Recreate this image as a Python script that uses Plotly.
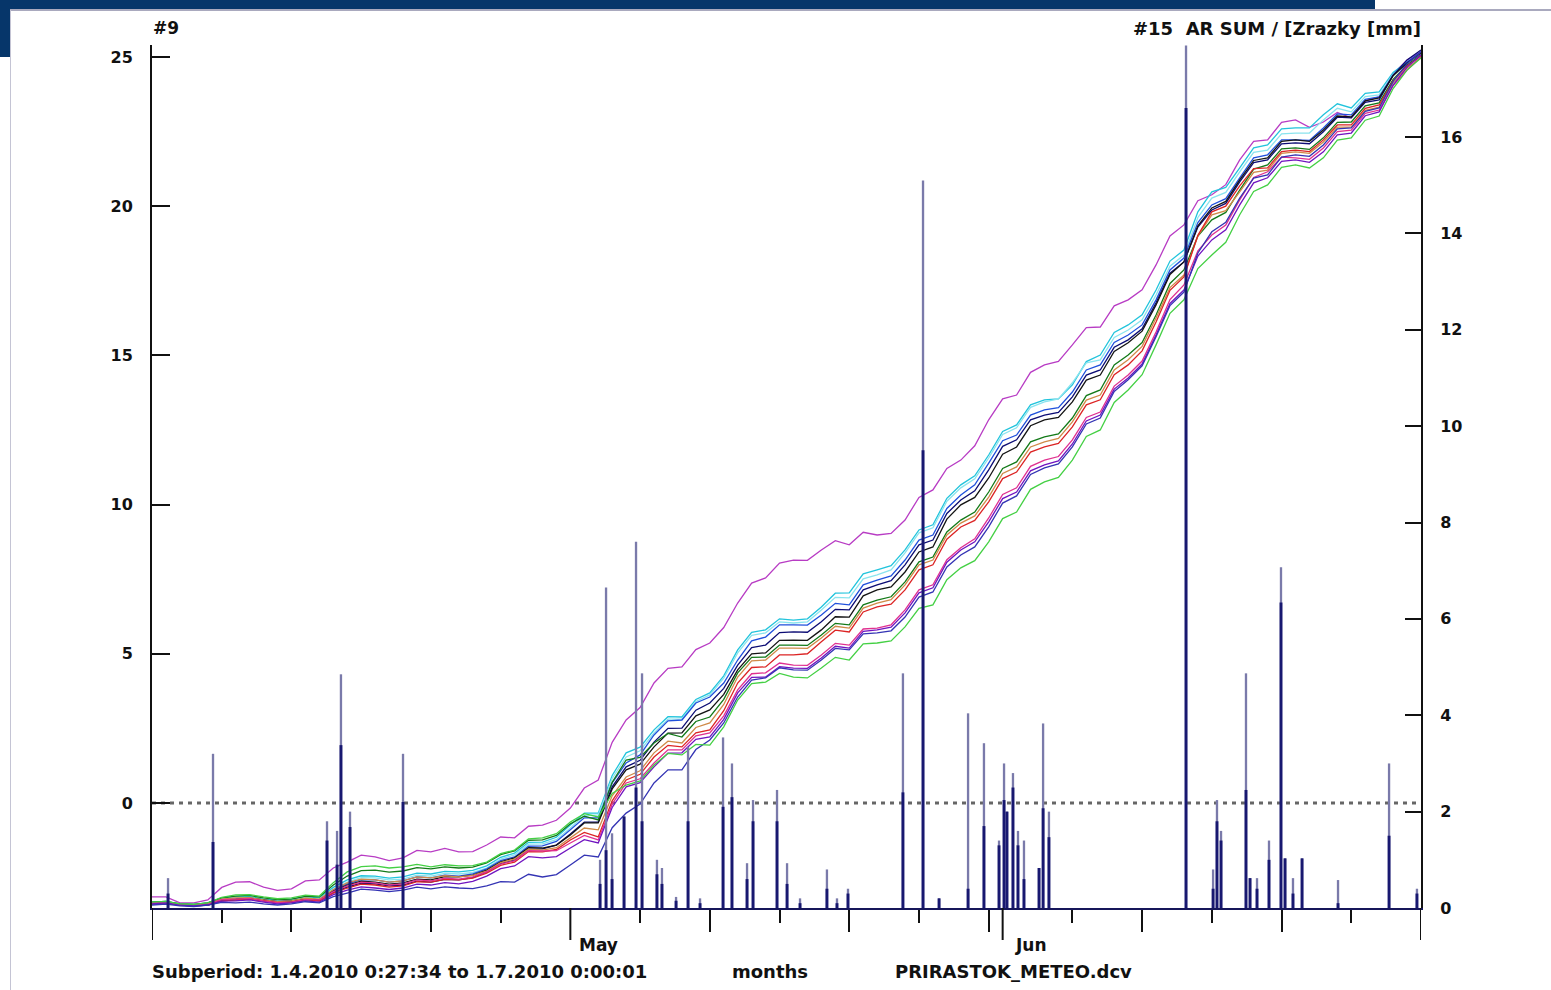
import plotly.graph_objects as go
import pandas as pd

# ---------------- data ----------------
# daily samples, 1.4.2010 .. 1.7.2010 (92 days)
line_dates = pd.date_range('2010-04-01', '2010-07-01', freq='D')

s_magenta = [-3.15, -3.15, -3.35, -3.35, -3.25, -2.83, -2.65, -2.64, -2.82, -2.93, -2.88, -2.61,
             -2.58, -2.18, -1.98, -1.75, -1.81, -1.93, -1.84, -1.59, -1.64, -1.52, -1.64, -1.63,
             -1.41, -1.14, -1.17, -0.78, -0.74, -0.58, -0.17, 0.50, 0.77, 2.03, 2.78, 3.20, 4.02,
             4.51, 4.56, 5.14, 5.36, 5.88, 6.70, 7.37, 7.54, 8.04, 8.14, 8.13, 8.48, 8.79, 8.65,
             9.07, 8.98, 9.03, 9.48, 10.24, 10.49, 11.21, 11.49, 11.97, 12.84, 13.54, 13.67,
             14.43, 14.68, 14.80, 15.35, 15.93, 15.95, 16.66, 16.86, 17.20, 18.03, 19.00, 19.37,
             20.18, 20.38, 20.72, 21.55, 22.17, 22.22, 22.81, 22.89, 22.64, 22.82, 23.14, 22.96,
             23.53, 23.66, 24.43, 24.90, 25.17]
s_cyan = [-3.32, -3.30, -3.38, -3.40, -3.35, -3.19, -3.15, -3.14, -3.22, -3.26, -3.22, -3.14,
          -3.18, -2.83, -2.58, -2.44, -2.45, -2.52, -2.48, -2.35, -2.38, -2.29, -2.31, -2.26,
          -2.11, -1.82, -1.68, -1.32, -1.31, -1.15, -0.74, -0.34, -0.34, 0.92, 1.68, 1.87, 2.45,
          2.89, 2.88, 3.47, 3.69, 4.26, 5.13, 5.72, 5.80, 6.17, 6.13, 6.17, 6.57, 7.03, 7.04,
          7.68, 7.81, 7.95, 8.48, 9.15, 9.32, 10.21, 10.66, 10.96, 11.66, 12.45, 12.67, 13.34,
          13.51, 13.54, 14.01, 14.79, 15.01, 15.77, 16.02, 16.36, 17.19, 18.16, 18.53, 19.81,
          20.48, 20.63, 21.28, 21.95, 22.05, 22.59, 22.62, 22.62, 23.06, 23.43, 23.29, 23.78,
          23.83, 24.48, 24.83, 25.07]
s_lcyan = [-3.35, -3.34, -3.42, -3.43, -3.38, -3.22, -3.18, -3.17, -3.25, -3.29, -3.25, -3.18,
           -3.22, -2.89, -2.65, -2.50, -2.51, -2.58, -2.55, -2.42, -2.45, -2.36, -2.38, -2.33,
           -2.18, -1.88, -1.74, -1.38, -1.37, -1.23, -0.84, -0.42, -0.40, 0.82, 1.54, 1.75, 2.35,
           2.81, 2.82, 3.40, 3.62, 4.18, 5.03, 5.62, 5.70, 6.07, 6.03, 6.07, 6.47, 6.89, 6.87,
           7.51, 7.64, 7.81, 8.38, 9.05, 9.22, 10.11, 10.56, 10.86, 11.56, 12.35, 12.57, 13.26,
           13.44, 13.54, 14.08, 14.75, 14.85, 15.60, 15.85, 16.19, 17.02, 17.99, 18.36, 19.62,
           20.27, 20.46, 21.15, 21.80, 21.88, 22.42, 22.45, 22.45, 22.89, 23.28, 23.16, 23.67,
           23.73, 24.42, 24.80, 25.13]
s_blue = [-3.35, -3.34, -3.42, -3.43, -3.38, -3.24, -3.22, -3.19, -3.25, -3.31, -3.28, -3.21,
          -3.25, -2.93, -2.71, -2.57, -2.58, -2.65, -2.61, -2.48, -2.51, -2.42, -2.45, -2.38,
          -2.21, -1.93, -1.81, -1.45, -1.44, -1.29, -0.90, -0.50, -0.50, 0.67, 1.34, 1.61, 2.28,
          2.75, 2.78, 3.35, 3.55, 4.02, 4.79, 5.43, 5.56, 5.97, 5.97, 5.96, 6.30, 6.69, 6.64,
          7.31, 7.47, 7.61, 8.14, 8.81, 8.98, 9.87, 10.32, 10.66, 11.39, 12.14, 12.33, 13.00,
          13.17, 13.25, 13.77, 14.51, 14.68, 15.43, 15.68, 16.02, 16.86, 17.86, 18.26, 19.45,
          20.04, 20.25, 20.95, 21.62, 21.72, 22.22, 22.22, 22.20, 22.62, 23.09, 23.06, 23.58,
          23.66, 24.40, 24.83, 25.17]
s_navy = [-3.38, -3.35, -3.42, -3.45, -3.42, -3.28, -3.25, -3.22, -3.28, -3.34, -3.32, -3.24,
          -3.28, -3.00, -2.82, -2.69, -2.71, -2.78, -2.75, -2.62, -2.65, -2.56, -2.58, -2.50,
          -2.31, -2.03, -1.91, -1.55, -1.54, -1.41, -1.04, -0.64, -0.64, 0.54, 1.21, 1.43, 2.04,
          2.50, 2.51, 3.11, 3.35, 3.84, 4.62, 5.21, 5.29, 5.71, 5.73, 5.72, 6.07, 6.49, 6.47,
          7.14, 7.31, 7.45, 7.98, 8.65, 8.81, 9.70, 10.15, 10.46, 11.16, 11.95, 12.17, 12.84,
          13.00, 13.09, 13.61, 14.34, 14.51, 15.27, 15.52, 15.89, 16.76, 17.75, 18.13, 19.30,
          19.87, 20.09, 20.81, 21.46, 21.55, 22.09, 22.12, 22.09, 22.49, 22.98, 22.96, 23.48,
          23.56, 24.38, 24.90, 25.23]
s_black = [-3.35, -3.34, -3.42, -3.43, -3.38, -3.24, -3.22, -3.19, -3.25, -3.31, -3.28, -3.21,
           -3.25, -2.95, -2.75, -2.62, -2.65, -2.72, -2.68, -2.55, -2.58, -2.47, -2.48, -2.42,
           -2.25, -1.97, -1.84, -1.50, -1.51, -1.41, -1.07, -0.67, -0.67, 0.47, 1.11, 1.30, 1.88,
           2.34, 2.35, 2.92, 3.12, 3.64, 4.46, 5.00, 5.03, 5.45, 5.46, 5.45, 5.80, 6.24, 6.23,
           6.94, 7.14, 7.24, 7.74, 8.41, 8.58, 9.51, 9.99, 10.24, 10.89, 11.69, 11.93, 12.64,
           12.84, 12.92, 13.44, 14.17, 14.34, 15.13, 15.42, 15.81, 16.69, 17.71, 18.13, 19.34,
           19.94, 20.16, 20.88, 21.53, 21.62, 22.17, 22.22, 22.17, 22.55, 23.02, 22.99, 23.53,
           23.63, 24.37, 24.80, 25.13]
s_dgreen = [-3.32, -3.30, -3.38, -3.40, -3.35, -3.18, -3.12, -3.10, -3.18, -3.24, -3.22, -3.13,
            -3.15, -2.75, -2.45, -2.27, -2.25, -2.32, -2.28, -2.17, -2.21, -2.14, -2.18, -2.15,
            -2.01, -1.73, -1.61, -1.25, -1.24, -1.09, -0.70, -0.44, -0.57, 0.69, 1.44, 1.53, 2.01,
            2.33, 2.21, 2.73, 2.88, 3.47, 4.36, 4.88, 4.89, 5.29, 5.29, 5.28, 5.63, 6.02, 5.97,
            6.64, 6.80, 6.91, 7.41, 8.08, 8.24, 9.08, 9.48, 9.75, 10.42, 11.21, 11.43, 12.10,
            12.27, 12.37, 12.90, 13.65, 13.84, 14.68, 15.01, 15.43, 16.35, 17.41, 17.86, 19.00,
            19.54, 19.79, 20.54, 21.24, 21.38, 21.92, 21.95, 21.90, 22.29, 22.81, 22.82, 23.36,
            23.46, 24.25, 24.73, 25.07]
s_orange = [-3.35, -3.34, -3.42, -3.43, -3.38, -3.22, -3.18, -3.17, -3.25, -3.31, -3.28, -3.19,
            -3.22, -2.90, -2.68, -2.55, -2.58, -2.65, -2.61, -2.48, -2.51, -2.44, -2.48, -2.43,
            -2.28, -2.00, -1.88, -1.55, -1.58, -1.50, -1.17, -0.84, -0.90, 0.24, 0.87, 1.08, 1.68,
            2.07, 2.01, 2.53, 2.68, 3.30, 4.22, 4.76, 4.79, 5.19, 5.19, 5.18, 5.53, 5.92, 5.86,
            6.53, 6.70, 6.81, 7.31, 7.98, 8.14, 8.98, 9.38, 9.62, 10.25, 11.04, 11.26, 11.93,
            12.10, 12.22, 12.77, 13.50, 13.67, 14.51, 14.85, 15.30, 16.25, 17.27, 17.69, 19.00,
            19.71, 19.85, 20.48, 21.13, 21.21, 21.77, 21.82, 21.77, 22.15, 22.65, 22.65, 23.21,
            23.32, 24.13, 24.63, 24.97]
s_red = [-3.38, -3.35, -3.42, -3.45, -3.42, -3.28, -3.25, -3.22, -3.28, -3.34, -3.32, -3.24,
         -3.28, -3.02, -2.85, -2.72, -2.75, -2.82, -2.78, -2.64, -2.65, -2.56, -2.58, -2.52,
         -2.35, -2.09, -1.98, -1.63, -1.64, -1.56, -1.24, -0.99, -1.14, 0.07, 0.77, 0.96, 1.54,
         1.93, 1.88, 2.35, 2.45, 3.09, 4.02, 4.54, 4.56, 4.96, 4.96, 5.00, 5.40, 5.79, 5.73,
         6.40, 6.57, 6.66, 7.14, 7.81, 7.98, 8.84, 9.25, 9.47, 10.09, 10.87, 11.09, 11.76,
         11.93, 12.05, 12.60, 13.34, 13.51, 14.35, 14.68, 15.15, 16.12, 17.18, 17.63, 19.02,
         19.81, 20.00, 20.68, 21.26, 21.28, 21.83, 21.88, 21.83, 22.22, 22.72, 22.72, 23.28,
         23.39, 24.20, 24.70, 25.03]
s_pink = [-3.35, -3.34, -3.42, -3.43, -3.38, -3.24, -3.22, -3.20, -3.28, -3.34, -3.32, -3.23,
          -3.25, -2.97, -2.78, -2.65, -2.68, -2.75, -2.71, -2.58, -2.61, -2.52, -2.55, -2.48,
          -2.31, -2.05, -1.94, -1.60, -1.61, -1.60, -1.34, -1.09, -1.24, -0.04, 0.67, 0.81, 1.34,
          1.78, 1.78, 2.25, 2.35, 2.92, 3.79, 4.33, 4.36, 4.69, 4.62, 4.61, 4.96, 5.35, 5.29,
          5.83, 5.86, 5.97, 6.47, 7.14, 7.31, 8.15, 8.55, 8.85, 9.55, 10.34, 10.56, 11.28,
          11.49, 11.61, 12.17, 12.92, 13.10, 13.97, 14.34, 14.81, 15.78, 16.87, 17.36, 18.50,
          19.03, 19.37, 20.21, 20.96, 21.15, 21.64, 21.62, 21.57, 21.95, 22.50, 22.55, 23.11,
          23.22, 24.04, 24.56, 25.00]
s_purple = [-3.38, -3.35, -3.42, -3.45, -3.42, -3.29, -3.28, -3.25, -3.32, -3.38, -3.35, -3.28,
            -3.32, -3.07, -2.92, -2.81, -2.85, -2.90, -2.85, -2.72, -2.75, -2.67, -2.71, -2.63,
            -2.45, -2.20, -2.11, -1.80, -1.84, -1.80, -1.51, -1.23, -1.34, -0.15, 0.54, 0.68, 1.21,
            1.67, 1.68, 2.13, 2.21, 2.80, 3.69, 4.21, 4.22, 4.57, 4.52, 4.51, 4.86, 5.25, 5.19,
            5.75, 5.80, 5.89, 6.37, 7.04, 7.21, 8.07, 8.48, 8.75, 9.42, 10.20, 10.42, 11.13,
            11.33, 11.46, 12.03, 12.80, 13.00, 13.87, 14.24, 14.71, 15.68, 16.74, 17.19, 18.33,
            18.87, 19.21, 20.04, 20.78, 20.95, 21.50, 21.55, 21.47, 21.82, 22.39, 22.45, 23.03,
            23.16, 24.06, 24.66, 25.07]
s_lowblue = [-3.42, -3.39, -3.45, -3.47, -3.42, -3.33, -3.35, -3.32, -3.38, -3.42, -3.38, -3.31,
             -3.35, -3.14, -3.02, -2.89, -2.92, -2.97, -2.92, -2.82, -2.88, -2.81, -2.85, -2.87,
             -2.78, -2.64, -2.65, -2.39, -2.48, -2.40, -2.08, -1.75, -1.81, -0.83, -0.34, -0.04,
             0.67, 1.11, 1.11, 1.79, 2.11, 2.68, 3.55, 4.12, 4.19, 4.53, 4.46, 4.45, 4.79, 5.18,
             5.13, 5.67, 5.70, 5.77, 6.23, 6.90, 7.07, 7.91, 8.31, 8.58, 9.25, 10.05, 10.29,
             11.01, 11.23, 11.36, 11.93, 12.70, 12.90, 13.79, 14.18, 14.65, 15.62, 16.67, 17.12,
             18.43, 19.14, 19.46, 20.27, 20.94, 21.05, 21.64, 21.72, 21.67, 22.05, 22.59, 22.62,
             23.18, 23.29, 24.18, 24.77, 25.17]
s_green = [-3.32, -3.30, -3.38, -3.40, -3.35, -3.16, -3.08, -3.07, -3.15, -3.21, -3.18, -3.09,
           -3.12, -2.67, -2.31, -2.13, -2.11, -2.18, -2.14, -2.06, -2.14, -2.07, -2.11, -2.10,
           -1.98, -1.70, -1.58, -1.20, -1.17, -1.03, -0.64, -0.36, -0.47, 0.32, 0.60, 0.74, 1.27,
           1.66, 1.61, 1.96, 1.94, 2.55, 3.45, 4.00, 4.05, 4.34, 4.22, 4.19, 4.52, 4.88, 4.79,
           5.33, 5.36, 5.43, 5.90, 6.52, 6.64, 7.48, 7.88, 8.12, 8.75, 9.53, 9.75, 10.51, 10.76,
           10.91, 11.49, 12.28, 12.50, 13.42, 13.84, 14.35, 15.35, 16.41, 16.86, 17.91, 18.36,
           18.79, 19.71, 20.49, 20.71, 21.30, 21.38, 21.28, 21.62, 22.21, 22.29, 22.88, 23.02,
           23.94, 24.56, 24.97]

series_names = ['magenta', 'cyan', 'lcyan', 'blue', 'navy', 'black', 'dgreen', 'orange',
                'red', 'pink', 'purple', 'lowblue', 'green']
series_values = [s_magenta, s_cyan, s_lcyan, s_blue, s_navy, s_black, s_dgreen, s_orange,
                 s_red, s_pink, s_purple, s_lowblue, s_green]
series_colors = ['#b83cc4', '#22c4dc', '#8ae4ee', '#2050dc', '#0c0c74', '#141414', '#137a18',
                 '#d08a48', '#dc2424', '#e03090', '#7014c0', '#3434b4', '#44d044']

# precipitation (right axis, mm)
rain_times = ['2010-04-02 03:36', '2010-04-05 09:00', '2010-04-13 13:12', '2010-04-14 06:29',
              '2010-04-14 13:12', '2010-04-15 04:48', '2010-04-19 00:00', '2010-05-03 03:07',
              '2010-05-03 13:26', '2010-05-03 23:46', '2010-05-04 20:24', '2010-05-05 17:02',
              '2010-05-06 03:22', '2010-05-07 05:02', '2010-05-07 13:41', '2010-05-08 13:55',
              '2010-05-09 10:34', '2010-05-10 07:12', '2010-05-11 22:48', '2010-05-12 14:10',
              '2010-05-13 16:05', '2010-05-14 02:24', '2010-05-15 19:41', '2010-05-16 12:58',
              '2010-05-17 11:17', '2010-05-19 09:36', '2010-05-20 02:53', '2010-05-20 21:50',
              '2010-05-24 20:24', '2010-05-26 06:58', '2010-05-27 10:34', '2010-05-29 12:29',
              '2010-05-30 15:50', '2010-05-31 17:46', '2010-06-01 02:24', '2010-06-01 07:26',
              '2010-06-01 17:46', '2010-06-02 02:24', '2010-06-02 12:43', '2010-06-03 14:38',
              '2010-06-03 21:36', '2010-06-04 07:41', '2010-06-14 03:36', '2010-06-16 02:10',
              '2010-06-16 08:53', '2010-06-16 15:50', '2010-06-18 10:48', '2010-06-18 17:46',
              '2010-06-19 05:46', '2010-06-20 02:24', '2010-06-20 23:02', '2010-06-21 06:00',
              '2010-06-21 19:41', '2010-06-22 11:17', '2010-06-25 01:12', '2010-06-28 17:02',
              '2010-06-30 17:02']
rain_light = [0.62, 3.20, 1.80, 1.60, 4.85, 2.00, 3.20, 1.00, 6.65, 1.55, 1.90, 7.60, 4.87, 1.00,
              0.83, 0.23, 3.34, 0.20, 3.54, 3.00, 0.93, 2.24, 2.45, 0.93, 0.20, 0.80, 0.20, 0.40,
              4.87, 15.10, 0.20, 4.04, 3.42, 1.40, 3.00, 2.00, 2.80, 1.60, 1.40, 0.83, 3.83, 2.00,
              17.90, 0.80, 2.24, 1.60, 4.87, 0.62, 0.62, 1.40, 7.07, 1.03, 0.62, 1.03, 0.58, 3.00,
              0.40]
rain_dark = [0.30, 1.37, 1.40, 0.90, 3.38, 1.68, 2.20, 0.50, 1.20, 0.60, 1.90, 2.50, 1.80, 0.70,
             0.50, 0.15, 1.80, 0.10, 2.10, 2.30, 0.60, 1.80, 1.80, 0.50, 0.10, 0.40, 0.10, 0.30,
             2.40, 9.50, 0.20, 0.40, 1.70, 1.30, 2.24, 2.00, 2.50, 1.30, 0.60, 0.83, 2.07, 1.47,
             16.60, 0.40, 1.80, 1.40, 2.45, 0.62, 0.40, 1.00, 6.34, 1.03, 0.30, 1.03, 0.10, 1.50,
             0.30]

left_ticks = [0, 5, 10, 15, 20, 25]
right_ticks = [0, 2, 4, 6, 8, 10, 12, 14, 16]
month_ticks = ['2010-04-01', '2010-05-01', '2010-06-01', '2010-07-01']
mid_ticks = ['2010-04-11', '2010-04-21', '2010-05-11', '2010-05-21', '2010-05-31',
             '2010-06-11', '2010-06-21']
minor_ticks = ['2010-04-06', '2010-04-16', '2010-04-26', '2010-05-06', '2010-05-16',
               '2010-05-26', '2010-06-06', '2010-06-16', '2010-06-26']
month_labels = [('2010-05-01', 'May'), ('2010-06-01', 'Jun')]

# ---------------- figure ----------------
W, H = 1551, 990
ML, MR, MT, MB = 152, 130, 45, 82
PW, PH = W - ML - MR, H - MT - MB


def px_x(p):
    return (p - ML) / PW


def px_y(p):
    return (H - MB - p) / PH


FONT = 'DejaVu Sans'

fig = go.Figure()

for name, vals, col in zip(series_names, series_values, series_colors):
    fig.add_trace(go.Scatter(x=line_dates[:len(vals)], y=vals, mode='lines', name=name,
                             line=dict(color=col, width=1.3), yaxis='y', hoverinfo='skip'))

fig.add_trace(go.Bar(x=rain_times, y=rain_light, yaxis='y2', width=4 * 3600 * 1000,
                     marker=dict(color='rgb(122,122,170)', line=dict(width=0)), hoverinfo='skip'))
fig.add_trace(go.Bar(x=rain_times, y=rain_dark, yaxis='y2', width=5 * 3600 * 1000,
                     marker=dict(color='rgb(24,24,112)', line=dict(width=0)), hoverinfo='skip'))

tickfont = dict(family=FONT, size=16, color='#111111', weight='bold')

fig.update_layout(
    width=W, height=H,
    margin=dict(l=ML, r=MR, t=MT, b=MB, pad=0),
    paper_bgcolor='white', plot_bgcolor='white',
    showlegend=False, barmode='overlay', hovermode=False,
    xaxis=dict(type='date', range=['2010-04-01', '2010-07-01'],
               showgrid=False, zeroline=False,
               showline=True, linecolor='#16165a', linewidth=2,
               tickmode='array', tickvals=mid_ticks, ticktext=['' for _ in mid_ticks],
               ticks='outside', ticklen=22, tickwidth=2, tickcolor='#111111',
               minor=dict(tickmode='array', tickvals=minor_ticks, ticks='outside',
                          ticklen=13, tickwidth=2, tickcolor='#111111', showgrid=False)),
    yaxis=dict(range=[-3.52, 25.4], showgrid=False, zeroline=False,
               showline=True, linecolor='#111111', linewidth=2,
               tickmode='array', tickvals=left_ticks, ticktext=[str(v) for v in left_ticks],
               ticks='inside', ticklen=18, tickwidth=2, tickcolor='#111111',
               tickfont=tickfont, ticklabelstandoff=14),
    yaxis2=dict(range=[0, 17.91], overlaying='y', side='right', anchor='x',
                showgrid=False, zeroline=False,
                showline=True, linecolor='#111111', linewidth=2,
                tickmode='array', tickvals=right_ticks, ticktext=[str(v) for v in right_ticks],
                ticks='inside', ticklen=16, tickwidth=2, tickcolor='#111111',
                tickfont=tickfont, ticklabelstandoff=14),
)

shapes = []
# dotted zero line on left axis
shapes.append(dict(type='line', xref='paper', yref='y', x0=0, x1=1, y0=0, y1=0,
                   line=dict(color='#666666', width=3, dash='4px,5px'), layer='below'))
# long month ticks below axis
for m in month_ticks:
    shapes.append(dict(type='line', xref='x', yref='paper', x0=m, x1=m,
                       y0=0, y1=-32 / PH, line=dict(color='#111111', width=2)))
# slide frame (header band, side strip, border)
shapes.append(dict(type='rect', xref='paper', yref='paper', x0=px_x(0), x1=px_x(1375),
                   y0=px_y(9), y1=px_y(0), fillcolor='#06366a', line=dict(width=0)))
shapes.append(dict(type='rect', xref='paper', yref='paper', x0=px_x(0), x1=px_x(10),
                   y0=px_y(57), y1=px_y(0), fillcolor='#06366a', line=dict(width=0)))
shapes.append(dict(type='line', xref='paper', yref='paper', x0=px_x(10), x1=px_x(W),
                   y0=px_y(10), y1=px_y(10), line=dict(color='#8c8ca8', width=1.5)))
shapes.append(dict(type='line', xref='paper', yref='paper', x0=px_x(10.5), x1=px_x(10.5),
                   y0=px_y(10), y1=px_y(H), line=dict(color='#c4c4d4', width=1)))
fig.update_layout(shapes=shapes)

afont = dict(family=FONT, size=18, color='#111111', weight='bold')
hfont = dict(family=FONT, size=17, color='#111111', weight='bold')
ann = [
    dict(text='#9', xref='paper', yref='paper', x=px_x(151), y=px_y(28),
         xanchor='left', yanchor='middle', showarrow=False, font=hfont),
    dict(text='#15  AR SUM / [Zrazky [mm]', xref='paper', yref='paper', x=px_x(1423), y=px_y(28),
         xanchor='right', yanchor='middle', showarrow=False, font=afont),
    dict(text='Subperiod: 1.4.2010 0:27:34 to 1.7.2010 0:00:01', xref='paper', yref='paper',
         x=px_x(150), y=px_y(971), xanchor='left', yanchor='middle', showarrow=False, font=afont),
    dict(text='months', xref='paper', yref='paper', x=px_x(770), y=px_y(971),
         xanchor='center', yanchor='middle', showarrow=False, font=afont),
    dict(text='PRIRASTOK_METEO.dcv', xref='paper', yref='paper', x=px_x(893), y=px_y(971),
         xanchor='left', yanchor='middle', showarrow=False, font=afont),
]
for d, lab in month_labels:
    ann.append(dict(text=lab, xref='x', yref='paper', x=d, xshift=28, y=px_y(945),
                    xanchor='center', yanchor='middle', showarrow=False, font=hfont))
fig.update_layout(annotations=ann)

fig.write_html('out.html', config={'displayModeBar': False},
               post_script="document.body.style.margin='0';document.body.style.overflow='hidden';")
